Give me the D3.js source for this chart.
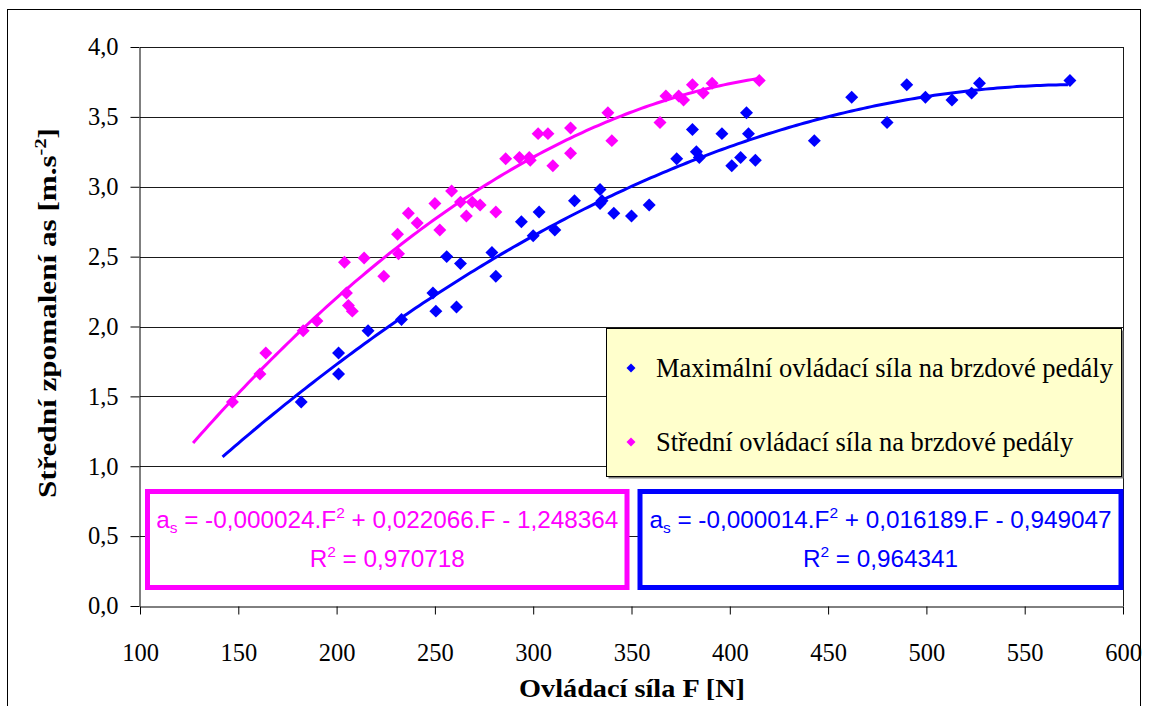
<!DOCTYPE html>
<html>
<head>
<meta charset="utf-8">
<script src="https://cdn.jsdelivr.net/npm/d3@7/dist/d3.min.js"></script>
<style>
  body { margin: 0; background: #fff; }
</style>
</head>
<body>
<div id="chart"></div>
<script>
// Maximální ovládací síla (blue)
var maxF = [182, 201, 201, 216, 233, 249, 250.5, 261, 256, 263, 279, 281, 294, 300, 303, 311, 321,
            334, 334, 335, 341, 350, 359, 373, 381, 383, 384.5, 396, 401, 405.5, 408.5, 409.5, 413,
            443, 462, 480, 490, 499.5, 513, 523, 527, 573];
var maxA = [1.46, 1.81, 1.66, 1.97, 2.05, 2.24, 2.11, 2.14, 2.50, 2.45, 2.53, 2.36, 2.75, 2.65, 2.82, 2.69, 2.90,
            2.98, 2.88, 2.90, 2.81, 2.79, 2.87, 3.20, 3.41, 3.25, 3.21, 3.38, 3.15, 3.21, 3.53, 3.38, 3.19,
            3.33, 3.64, 3.46, 3.73, 3.64, 3.62, 3.67, 3.74, 3.76];
// Střední ovládací síla (magenta)
var midF = [147, 161, 164, 183, 190, 204, 205, 206, 208, 214, 224, 231, 231.5, 236.5, 241, 250, 252.5,
            258.5, 263, 266, 269, 273, 281, 286, 293, 298, 298.5, 302.5, 307.5, 310, 319, 319,
            338, 340, 364.5, 367.5, 374, 376.5, 381, 386.5, 391, 415];
var midA = [1.46, 1.66, 1.81, 1.97, 2.04, 2.46, 2.24, 2.15, 2.11, 2.49, 2.36, 2.66, 2.52, 2.81, 2.74, 2.88, 2.69,
            2.97, 2.89, 2.79, 2.89, 2.87, 2.82, 3.20, 3.21, 3.21, 3.19, 3.38, 3.38, 3.15, 3.42, 3.24,
            3.53, 3.33, 3.46, 3.65, 3.65, 3.62, 3.73, 3.67, 3.74, 3.76];

// trendline coefficients as printed on the chart (F^2, F, 1) and their drawn span
var fitMax = [-0.000014, 0.016189, -0.949047];
var fitMid = [-0.000024, 0.022066, -1.248364];
var spanMax = [142, 573];
var spanMid = [127, 415];
var r2 = ["0,964341", "0,970718"];

var seriesNames = ["Maximální ovládací síla na brzdové pedály", "Střední ovládací síla na brzdové pedály"];
var xTicks = [100, 150, 200, 250, 300, 350, 400, 450, 500, 550, 600];
var yTicks = [0, 0.5, 1, 1.5, 2, 2.5, 3, 3.5, 4];

var W = 1150, H = 706;
var blue = "#0000ff", pink = "#ff00ff";
var serif = "Liberation Serif";
var sans = "Liberation Sans";

var svg = d3.select("#chart").append("svg")
            .attr("width", W)
            .attr("height", H);

// outer frame
svg.append("rect")
   .attr("x", 7.5).attr("y", 9.5)
   .attr("width", 1133).attr("height", 710)
   .attr("fill", "none").attr("stroke", "#000").attr("stroke-width", 1);

var x = d3.scaleLinear().domain([100, 600]).range([140, 1123]);
var y = d3.scaleLinear().domain([0, 4]).range([606, 47]);

// gridlines
svg.append("g").selectAll("line")
   .data(yTicks.filter(function(d) { return d > 0; }))
   .enter().append("line")
   .attr("x1", 140).attr("x2", 1123)
   .attr("y1", function(d) { return Math.round(y(d)) + 0.5; })
   .attr("y2", function(d) { return Math.round(y(d)) + 0.5; })
   .attr("stroke", "#1a1a1a").attr("stroke-width", 1);

// right edge of plot area
svg.append("line")
   .attr("x1", 1123.5).attr("x2", 1123.5)
   .attr("y1", y(4)).attr("y2", y(0))
   .attr("stroke", "#1a1a1a");

function comma(d, p) {
    return d3.format("." + p + "f")(Math.abs(d)).replace(".", ",");
}

// axes
var xAxis = d3.axisBottom(x).tickValues(xTicks).tickSize(8).tickSizeOuter(0).tickPadding(29);
var yAxis = d3.axisLeft(y).tickValues(yTicks).tickSize(9).tickSizeOuter(0).tickPadding(12)
              .tickFormat(function(d) { return comma(d, 1); });

var gx = svg.append("g").attr("transform", "translate(0," + (Math.round(y(0)) + 0.5) + ")").call(xAxis);
var gy = svg.append("g").attr("transform", "translate(" + (Math.round(x(100)) - 0.5) + ",0)").call(yAxis);
[gx, gy].forEach(function(g) {
    g.attr("font-family", serif).attr("font-size", 24.5);
    g.selectAll("path, line").attr("stroke", "#000");
    g.selectAll("text").attr("fill", "#000");
});

// trend lines
var line = d3.line()
             .x(function(d) { return x(d[0]); })
             .y(function(d) { return y(d[1]); });

function trend(c, span) {
    var pts = [];
    for (var f = span[0]; f <= span[1]; f += 2) {
        pts.push([f, c[0] * f * f + c[1] * f + c[2]]);
    }
    return pts;
}

svg.append("path").datum(trend(fitMid, spanMid))
   .attr("d", line).attr("fill", "none").attr("stroke", pink).attr("stroke-width", 3);
svg.append("path").datum(trend(fitMax, spanMax))
   .attr("d", line).attr("fill", "none").attr("stroke", blue).attr("stroke-width", 3);

// markers
var diamond = d3.symbol().type(d3.symbolSquare).size(84);

function drawPoints(fs, as, color) {
    svg.append("g").selectAll("path")
       .data(d3.zip(fs, as))
       .enter().append("path")
       .attr("d", diamond)
       .attr("transform", function(d) { return "translate(" + x(d[0]) + "," + y(d[1]) + ") rotate(45)"; })
       .attr("fill", color);
}
drawPoints(maxF, maxA, blue);
drawPoints(midF, midA, pink);

// legend
var lg = svg.append("g");
lg.append("rect")
  .attr("x", 608.5).attr("y", 330.5).attr("width", 515).attr("height", 148)
  .attr("fill", "#808080");
lg.append("rect")
  .attr("x", 606.5).attr("y", 328.5).attr("width", 515).attr("height", 148)
  .attr("fill", "#ffffcc").attr("stroke", "#000").attr("stroke-width", 1);
seriesNames.forEach(function(name, i) {
    var cy = 368 + i * 74;
    lg.append("path")
      .attr("d", d3.symbol().type(d3.symbolSquare).size(40))
      .attr("transform", "translate(631," + cy + ") rotate(45)")
      .attr("fill", i === 0 ? blue : pink);
    lg.append("text")
      .attr("x", 656).attr("y", cy + 9)
      .attr("font-family", serif).attr("font-size", 26.5)
      .text(name);
});

// equation boxes
function eqBox(x0, x1, c, rr, color) {
    var g = svg.append("g")
               .attr("font-family", sans).attr("fill", color);
    g.append("rect")
     .attr("x", x0).attr("y", 491.5).attr("width", x1 - x0).attr("height", 96)
     .attr("fill", "#fff").attr("stroke", color).attr("stroke-width", 5);
    var cx = (x0 + x1) / 2;
    var t = g.append("text")
             .attr("x", cx).attr("y", 528).attr("text-anchor", "middle")
             .attr("font-size", 24.3);
    t.append("tspan").text("a");
    t.append("tspan").attr("font-size", 15.5).attr("dy", 5).text("s");
    t.append("tspan").attr("dy", -5).text(" = -" + comma(c[0], 6) + ".F");
    t.append("tspan").attr("font-size", 15.5).attr("dy", -10).text("2");
    t.append("tspan").attr("dy", 10)
     .text(" + " + comma(c[1], 6) + ".F - " + comma(c[2], 6));
    var t2 = g.append("text")
              .attr("x", cx).attr("y", 567).attr("text-anchor", "middle")
              .attr("font-size", 24.3);
    t2.append("tspan").text("R");
    t2.append("tspan").attr("font-size", 15.5).attr("dy", -10).text("2");
    t2.append("tspan").attr("dy", 10).text(" = " + rr);
}
eqBox(147.5, 627, fitMid, r2[1], pink);
eqBox(640, 1121, fitMax, r2[0], blue);

// axis titles
svg.append("text")
   .attr("x", 632).attr("y", 697).attr("text-anchor", "middle")
   .attr("font-family", serif).attr("font-size", 26).attr("font-weight", "bold")
   .attr("textLength", 226).attr("lengthAdjust", "spacingAndGlyphs")
   .text("Ovládací síla F [N]");

var yt = svg.append("text")
   .attr("transform", "translate(56,313) rotate(-90)")
   .attr("text-anchor", "middle")
   .attr("font-family", serif).attr("font-size", 26).attr("font-weight", "bold")
   .attr("textLength", 370).attr("lengthAdjust", "spacingAndGlyphs");
yt.append("tspan").text("Střední zpomalení as [m.s");
yt.append("tspan").attr("font-size", 17).attr("dy", -10).text("-2");
yt.append("tspan").attr("dy", 10).text("]");
</script>
</body>
</html>
